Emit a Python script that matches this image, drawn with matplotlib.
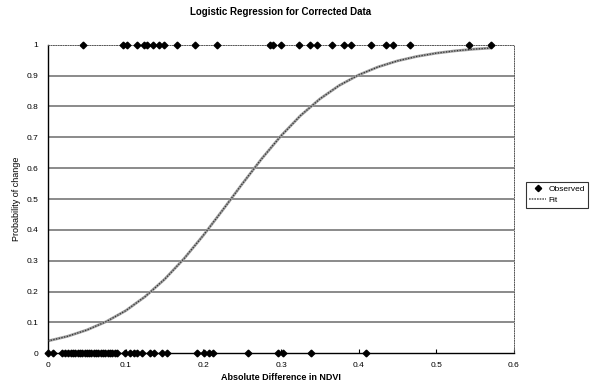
import matplotlib
matplotlib.use("Agg")
import matplotlib.pyplot as plt
from matplotlib.lines import Line2D

plt.rcParams['font.family'] = ['Liberation Sans', 'DejaVu Sans']

title = "Logistic Regression for Corrected Data"
xlabel = "Absolute Difference in NDVI"
ylabel = "Probability of change"
legend_labels = ["Observed", "Fit"]

x_ticks = [0, 0.1, 0.2, 0.3, 0.4, 0.5, 0.6]
x_tick_labels = ["0", "0.1", "0.2", "0.3", "0.4", "0.5", "0.6"]
y_ticks = [0, 0.1, 0.2, 0.3, 0.4, 0.5, 0.6, 0.7, 0.8, 0.9, 1]
y_tick_labels = ["0", "0.1", "0.2", "0.3", "0.4", "0.5", "0.6", "0.7", "0.8", "0.9", "1"]

# Observed: changed (1)
obs_one_x = [0.0455, 0.0962, 0.1021, 0.1150, 0.1236, 0.1271, 0.1356, 0.1426, 0.1494,
             0.1658, 0.1893, 0.2172, 0.2858, 0.2901, 0.2996, 0.3235, 0.3373, 0.3463,
             0.3653, 0.3815, 0.3901, 0.4153, 0.4352, 0.4438, 0.4661, 0.5424, 0.5700]
# Observed: unchanged (0)
obs_zero_x = [0.0004, 0.0068, 0.0176, 0.0219, 0.026, 0.029, 0.032, 0.035, 0.038, 0.041,
              0.044, 0.047, 0.050, 0.053, 0.056, 0.059, 0.062, 0.065, 0.068, 0.071,
              0.074, 0.077, 0.080, 0.083, 0.086, 0.089, 0.0991, 0.1056, 0.1107, 0.1142,
              0.1206, 0.1313, 0.1369, 0.1472, 0.1534, 0.1915, 0.2009, 0.2073, 0.2125,
              0.2579, 0.2961, 0.3026, 0.3382, 0.4094]

fit_x = [0, 0.025, 0.05, 0.075, 0.1, 0.125, 0.15, 0.175, 0.2, 0.225, 0.25, 0.275,
         0.3, 0.325, 0.35, 0.375, 0.4, 0.425, 0.45, 0.475, 0.5, 0.525, 0.55, 0.57]
fit_y = [0.040, 0.055, 0.0755, 0.1027, 0.138, 0.1836, 0.2396, 0.3063, 0.3822, 0.4644,
         0.5486, 0.630, 0.7047, 0.770, 0.8242, 0.868, 0.902, 0.928, 0.9476, 0.962,
         0.9726, 0.9803, 0.9859, 0.9892]

fig = plt.figure(figsize=(5.95, 3.85), dpi=100)
ax = fig.add_axes([48/595, 1-353.3/385, (514-48)/595, (353.3-44.7)/385])
ax.set_xlim(0, 0.6)
ax.set_ylim(0, 1)

for yv in y_ticks[1:-1]:
    ax.axhline(yv, color='#8a8a8a', lw=1.4, zorder=1)

ax.plot(fit_x, fit_y, color='#a0a0a0', lw=2.0, zorder=2, solid_capstyle='butt')
ax.plot(fit_x, fit_y, color='#333333', lw=0.9, dashes=(1, 1.2), zorder=3)

ax.plot(obs_one_x, [1]*len(obs_one_x), 'D', color='black', ms=3.4, zorder=4, clip_on=False)
ax.plot(obs_zero_x, [0]*len(obs_zero_x), 'D', color='black', ms=3.4, zorder=4, clip_on=False)

for s in ['top', 'right']:
    ax.spines[s].set_linestyle((0, (1, 1.5)))
    ax.spines[s].set_linewidth(0.7)
    ax.spines[s].set_color('#555555')
ax.spines['left'].set_linewidth(1.0)
ax.spines['bottom'].set_linewidth(1.0)

ax.set_xticks(x_ticks)
ax.set_xticklabels(x_tick_labels, fontsize=6)
ax.set_yticks(y_ticks)
ax.set_yticklabels(y_tick_labels, fontsize=6)
ax.tick_params(axis='x', direction='in', length=3, width=0.8, pad=6)
ax.tick_params(axis='y', length=0, pad=7)

ax.set_xlabel(xlabel, fontsize=6.5, fontweight='bold', labelpad=3)
ax.set_ylabel(ylabel, fontsize=6.5)
ax.yaxis.set_label_coords(-0.058, 0.5)
fig.text(281/595, 1-12/385, title, fontsize=7, fontweight='bold', ha='center', va='center')

handles = [Line2D([], [], marker='D', color='black', ls='none', ms=3.2),
           Line2D([], [], color='#666666', lw=1.2, dashes=(1, 0.6))]
leg = fig.legend(handles, legend_labels, loc='upper left', bbox_to_anchor=(526/595, 1-182/385),
                 fontsize=6, frameon=True, fancybox=False, edgecolor='black',
                 handlelength=2.0, handletextpad=0.3, borderpad=0.4, labelspacing=0.4,
                 borderaxespad=0)
leg.get_frame().set_linewidth(0.8)

fig.savefig("out.png", dpi=100)
